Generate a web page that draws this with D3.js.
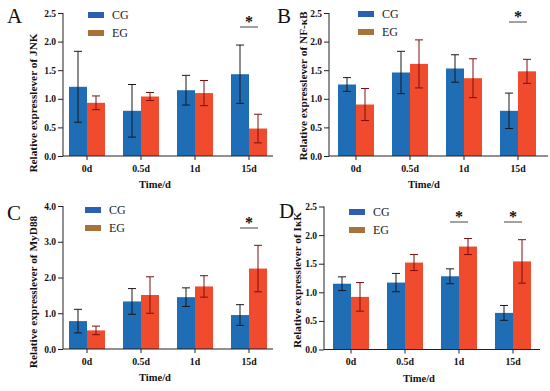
<!DOCTYPE html>
<html>
<head>
<meta charset="utf-8">
<script src="https://cdn.jsdelivr.net/npm/d3@7"></script>
<style>
  body { margin: 0; background: #fff; }
  svg { display: block; font-family: "Liberation Serif", "Times New Roman", serif; }
</style>
</head>
<body>
<svg id="chart" width="550" height="391"></svg>
<script>
// categories and groups shared by all four panels
const categories = ['0d', '0.5d', '1d', '15d'];
const groups = ['CG', 'EG'];

// A - JNK
const jnkCG = [1.21, 0.79, 1.15, 1.43];
const jnkCGErr = [0.62, 0.46, 0.26, 0.51];
const jnkEG = [0.93, 1.04, 1.10, 0.48];
const jnkEGErr = [0.12, 0.07, 0.22, 0.25];
const jnkSig = ['15d'];

// B - NF-kB
const nfkbCG = [1.25, 1.46, 1.53, 0.79];
const nfkbCGErr = [0.12, 0.37, 0.24, 0.31];
const nfkbEG = [0.90, 1.61, 1.36, 1.48];
const nfkbEGErr = [0.28, 0.42, 0.34, 0.21];
const nfkbSig = ['15d'];

// C - MyD88
const myd88CG = [0.78, 1.33, 1.45, 0.95];
const myd88CGErr = [0.33, 0.36, 0.26, 0.29];
const myd88EG = [0.52, 1.51, 1.75, 2.25];
const myd88EGErr = [0.12, 0.51, 0.30, 0.65];
const myd88Sig = ['15d'];

// D - IkK
const ikkCG = [1.15, 1.17, 1.28, 0.64];
const ikkCGErr = [0.12, 0.16, 0.13, 0.13];
const ikkEG = [0.92, 1.52, 1.80, 1.54];
const ikkEGErr = [0.25, 0.14, 0.14, 0.38];
const ikkSig = ['1d', '15d'];

// tick labels
const ticks25 = [0, 0.5, 1.0, 1.5, 2.0, 2.5];
const ticks4 = [0, 1, 2, 3, 4];

const barColor = { CG: '#1f6db4', EG: '#f04b2d' };
const legendColor = { CG: '#2a5fb2', EG: '#a8733a' };
const errColor = { CG: '#1a1a1a', EG: '#7a1010' };

const svg = d3.select('#chart');

function drawPanel(p) {
  const g = svg.append('g');

  const y = d3.scaleLinear().domain([0, p.yMax]).range([p.y0, p.yTop]);
  const x = d3.scaleBand()
    .domain(categories)
    .range([p.c0 - 27, p.c0 + 189])
    .paddingInner(1 / 3)
    .paddingOuter(1 / 6);
  const xg = d3.scaleBand().domain(groups).range([0, x.bandwidth()]);

  const rows = [];
  categories.forEach(function (c, i) {
    rows.push({ cat: c, grp: 'CG', v: p.cg[i], e: p.cgErr[i] });
    rows.push({ cat: c, grp: 'EG', v: p.eg[i], e: p.egErr[i] });
  });

  // bars
  g.selectAll('rect.bar')
    .data(rows)
    .enter()
    .append('rect')
    .attr('class', 'bar')
    .attr('x', d => x(d.cat) + xg(d.grp))
    .attr('y', d => y(d.v))
    .attr('width', xg.bandwidth())
    .attr('height', d => y(0) - y(d.v))
    .attr('fill', d => barColor[d.grp]);

  // error bars
  const eb = g.selectAll('g.err').data(rows).enter().append('g')
    .attr('stroke', d => errColor[d.grp])
    .attr('stroke-width', 1);
  const cx = d => x(d.cat) + xg(d.grp) + xg.bandwidth() / 2;
  eb.append('line')
    .attr('x1', cx).attr('x2', cx)
    .attr('y1', d => y(d.v + d.e)).attr('y2', d => y(d.v - d.e));
  eb.append('line')
    .attr('x1', d => cx(d) - 4).attr('x2', d => cx(d) + 4)
    .attr('y1', d => y(d.v + d.e)).attr('y2', d => y(d.v + d.e));
  eb.append('line')
    .attr('x1', d => cx(d) - 4).attr('x2', d => cx(d) + 4)
    .attr('y1', d => y(d.v - d.e)).attr('y2', d => y(d.v - d.e));

  // y axis
  const yAxis = g.append('g')
    .attr('transform', 'translate(' + p.left + ',0)')
    .call(d3.axisLeft(y).tickValues(p.ticks).tickFormat(d3.format('.1f')).tickSize(5).tickPadding(2));
  yAxis.select('.domain').remove();
  yAxis.append('line')
    .attr('x1', 0).attr('x2', 0)
    .attr('y1', p.yTop).attr('y2', p.y0)
    .attr('stroke', '#222');
  yAxis.selectAll('.tick line').attr('stroke', '#222');
  yAxis.selectAll('.tick text')
    .attr('fill', '#111')
    .style('font-size', '9.5px')
    .style('font-weight', 'bold')
    .style('font-family', '"Liberation Serif", serif');

  // x axis
  const xAxis = g.append('g')
    .attr('transform', 'translate(0,' + p.y0 + ')')
    .call(d3.axisBottom(x).tickSize(4).tickPadding(5));
  xAxis.select('.domain').remove();
  xAxis.append('line')
    .attr('x1', p.left).attr('x2', p.right)
    .attr('y1', 0).attr('y2', 0)
    .attr('stroke', '#222');
  xAxis.selectAll('.tick line').attr('stroke', '#222');
  xAxis.selectAll('.tick text')
    .attr('fill', '#111')
    .style('font-size', '9.8px')
    .style('font-weight', 'bold')
    .style('font-family', '"Liberation Serif", serif');

  // axis titles
  g.append('text')
    .attr('x', p.c0 + 81 - 13)
    .attr('y', p.y0 + 32)
    .attr('text-anchor', 'middle')
    .style('font-size', '10.5px')
    .style('font-weight', 'bold')
    .attr('fill', '#111')
    .text('Time/d');

  g.append('text')
    .attr('transform', 'translate(' + p.ylx + ',' + p.yly + ') rotate(-90)')
    .attr('text-anchor', 'middle')
    .attr('dy', '0.35em')
    .style('font-size', '11.3px')
    .style('font-weight', 'bold')
    .attr('fill', '#111')
    .text(p.ylabel);

  // panel letter
  g.append('text')
    .attr('x', p.lx).attr('y', p.ly)
    .style('font-size', '21px')
    .attr('fill', '#111')
    .text(p.letter);

  // legend
  groups.forEach(function (grp, i) {
    const ly = p.legY + i * 18;
    g.append('rect')
      .attr('x', p.legX).attr('y', ly)
      .attr('width', 16).attr('height', 6)
      .attr('fill', legendColor[grp]);
    g.append('text')
      .attr('x', p.legX + 24).attr('y', ly + 7)
      .style('font-size', '12px')
      .attr('fill', '#222')
      .text(grp);
  });

  // significance marks
  p.sig.forEach(function (c) {
    const mid = x(c) + x.bandwidth() / 2;
    g.append('line')
      .attr('x1', mid - 9).attr('x2', mid + 9)
      .attr('y1', p.sigY).attr('y2', p.sigY)
      .attr('stroke', '#444').attr('stroke-width', 1);
    g.append('text')
      .attr('x', mid).attr('y', p.sigY - 0.5)
      .attr('text-anchor', 'middle')
      .style('font-size', '16px')
      .style('font-weight', 'bold')
      .attr('fill', '#111')
      .text('*');
  });
}

drawPanel({
  letter: 'A', lx: 7, ly: 23,
  cg: jnkCG, cgErr: jnkCGErr, eg: jnkEG, egErr: jnkEGErr, sig: jnkSig,
  ticks: ticks25, yMax: 2.5,
  left: 63, right: 273, y0: 156, yTop: 13, c0: 87,
  ylabel: 'Relative expresslever of JNK', ylx: 33, yly: 103,
  legX: 88, legY: 12, sigY: 27
});

drawPanel({
  letter: 'B', lx: 277, ly: 23,
  cg: nfkbCG, cgErr: nfkbCGErr, eg: nfkbEG, egErr: nfkbEGErr, sig: nfkbSig,
  ticks: ticks25, yMax: 2.5,
  left: 329, right: 548, y0: 156, yTop: 13, c0: 356,
  ylabel: 'Relative expresslever of NF-κB', ylx: 303, yly: 86,
  legX: 358, legY: 11, sigY: 22
});

drawPanel({
  letter: 'C', lx: 7, ly: 220,
  cg: myd88CG, cgErr: myd88CGErr, eg: myd88EG, egErr: myd88EGErr, sig: myd88Sig,
  ticks: ticks4, yMax: 4,
  left: 63, right: 273, y0: 349, yTop: 206, c0: 87,
  ylabel: 'Relative expresslever of MyD88', ylx: 33, yly: 292,
  legX: 85, legY: 207, sigY: 228
});

drawPanel({
  letter: 'D', lx: 279, ly: 218,
  cg: ikkCG, cgErr: ikkCGErr, eg: ikkEG, egErr: ikkEGErr, sig: ikkSig,
  ticks: ticks25, yMax: 2.5,
  left: 324, right: 540, y0: 349.5, yTop: 206.5, c0: 351,
  ylabel: 'Relative expresslever of IκK', ylx: 297, yly: 280,
  legX: 349, legY: 209, sigY: 222
});
</script>
</body>
</html>
